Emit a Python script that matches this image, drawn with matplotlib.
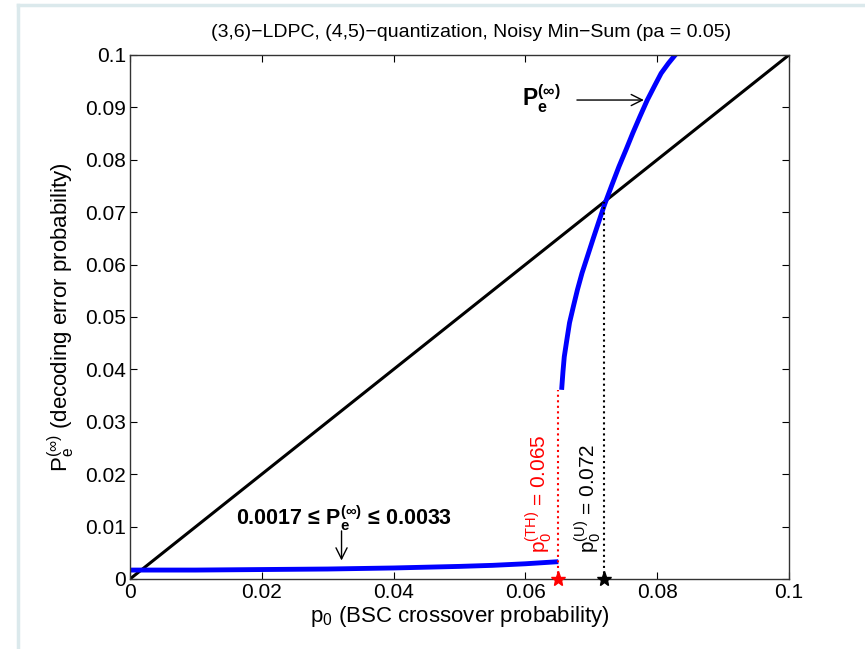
import numpy as np
import matplotlib.pyplot as plt
from matplotlib.lines import Line2D

plt.rcParams['font.family'] = ['Liberation Sans', 'DejaVu Sans']
plt.rcParams['mathtext.fontset'] = 'custom'
plt.rcParams['mathtext.rm'] = 'Liberation Sans'
plt.rcParams['mathtext.it'] = 'Liberation Sans:italic'
plt.rcParams['mathtext.bf'] = 'Liberation Sans:bold'

# lower branch of the density-evolution fixed point (below threshold)
low_p0 = [0.0, 0.01, 0.02, 0.03, 0.04, 0.05, 0.055, 0.06, 0.0625, 0.065]
low_pe = [0.0017, 0.0017, 0.0018, 0.0019, 0.0021, 0.0024, 0.0026, 0.0029, 0.0031, 0.0033]

# upper branch (above threshold)
up_p0 = [0.0655, 0.0657, 0.0659, 0.0663, 0.0667, 0.0673, 0.0679, 0.0686, 0.0694, 0.0703,
         0.0712, 0.0720, 0.0731, 0.0742, 0.0753, 0.0763, 0.0774, 0.0785, 0.0796, 0.0806,
         0.0817, 0.0828]
up_pe = [0.0361, 0.0395, 0.0424, 0.0457, 0.0489, 0.0521, 0.0552, 0.0584, 0.0615, 0.0650,
         0.0684, 0.0714, 0.0751, 0.0787, 0.0820, 0.0851, 0.0883, 0.0914, 0.0941, 0.0965,
         0.0984, 0.1001]

p_th = 0.065
p_u = 0.072
pe_jump = 0.0361
pe_low_min, pe_low_max = 0.0017, 0.0033

fig = plt.figure(figsize=(8.65, 6.49), dpi=100)
ax = fig.add_axes([0.1503, 0.1079, 0.7618, 0.8074])

# reference line Pe = p0
ax.plot([0, 0.1], [0, 0.1], color='black', lw=2.2)
ax.plot(low_p0, low_pe, color='blue', lw=3.5, solid_capstyle='butt')
ax.plot(up_p0, up_pe, color='blue', lw=3.5, solid_capstyle='butt')

# threshold markers
ax.plot([p_th, p_th], [0, pe_jump], color='red', ls=':', lw=1.5)
ax.plot([p_u, p_u], [0, p_u], color='black', ls=':', lw=1.5)
ax.plot(p_th, 0, marker='*', color='red', ms=11, clip_on=False, zorder=5)
ax.plot(p_u, 0, marker='*', color='black', ms=11, clip_on=False, zorder=5)

ax.text(0.0620, 0.005, r'$\mathrm{p}_0^{(\mathrm{TH})}$ = %.3f' % p_th, color='red',
        rotation=90, ha='center', va='bottom', fontsize=15)
ax.text(0.0694, 0.005, r'$\mathrm{p}_0^{(\mathrm{U})}$ = %.3f' % p_u, color='black',
        rotation=90, ha='center', va='bottom', fontsize=15)

ax.text(0.0325, 0.0103,
        '%.4f \u2264 $\\mathbf{P}_{\\mathbf{e}}^{\\mathbf{(\\infty)}}$ \u2264 %.4f' % (pe_low_min, pe_low_max),
        ha='center', va='baseline', fontsize=15.5, fontweight='bold')
ax.annotate('', xy=(0.0321, 0.0030), xytext=(0.0321, 0.0097),
            arrowprops=dict(arrowstyle='->', color='black', lw=1, mutation_scale=20))

ax.text(0.0625, 0.0901, r'$\mathbf{P}_{\mathbf{e}}^{\mathbf{(\infty)}}$',
        ha='center', va='baseline', fontsize=16.5)
ax.annotate('', xy=(0.0784, 0.0914), xytext=(0.0674, 0.0914),
            arrowprops=dict(arrowstyle='->', color='black', lw=1, mutation_scale=20))

ax.set_xlim(0, 0.1)
ax.set_ylim(0, 0.1)
ax.set_xticks(np.arange(0, 0.101, 0.02))
ax.set_yticks(np.arange(0, 0.101, 0.01))
ax.set_xticklabels(['0', '0.02', '0.04', '0.06', '0.08', '0.1'])
ax.set_yticklabels(['0'] + ['%.2f' % v for v in np.arange(0.01, 0.095, 0.01)] + ['0.1'])
ax.tick_params(direction='in', top=True, right=True, length=5, labelsize=15, width=0.8, pad=3)
for s in ax.spines.values():
    s.set_linewidth(1.0)
    s.set_color('#333333')

ax.set_title('(3,6)\u2212LDPC, (4,5)\u2212quantization, Noisy Min\u2212Sum (pa = 0.05)',
             fontsize=14, pad=13, x=0.517)
ax.set_xlabel(r'$\mathrm{p}_0$ (BSC crossover probability)', fontsize=16, labelpad=1)
ax.set_ylabel(r'$\mathrm{P}_\mathrm{e}^{(\infty)}$ (decoding error probability)', fontsize=16, labelpad=6)

# light frame around the figure
fig.add_artist(Line2D([18 / 865, 18 / 865], [0, 1 - 5 / 649], transform=fig.transFigure,
                      color='#dbe9ec', lw=2.5))
fig.add_artist(Line2D([18 / 865, 1], [1 - 5 / 649, 1 - 5 / 649], transform=fig.transFigure,
                      color='#dbe9ec', lw=2.5))

fig.savefig('out.png', dpi=100)
